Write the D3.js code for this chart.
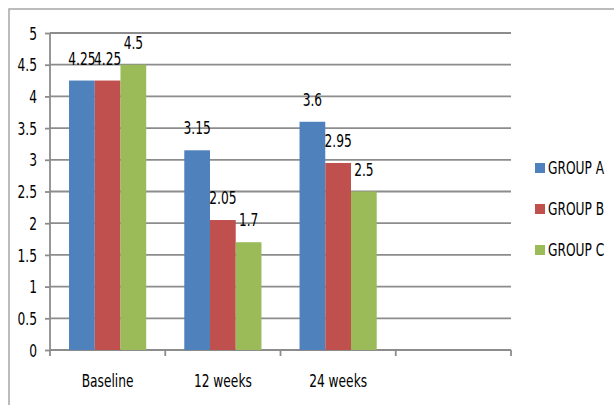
<!DOCTYPE html>
<html>
<head>
<meta charset="utf-8">
<script src="https://cdn.jsdelivr.net/npm/d3@7"></script>
<style>
  body { margin: 0; background: #fff; }
  text { font-family: "DejaVu Sans Condensed", "DejaVu Sans", sans-serif; fill: #000; }
</style>
</head>
<body>
<div id="chart"></div>
<script>
const categories = ["Baseline", "12 weeks", "24 weeks", ""];
const groups = ["GROUP A", "GROUP B", "GROUP C"];
const groupA = [4.25, 3.15, 3.6];
const groupB = [4.25, 2.05, 2.95];
const groupC = [4.5, 1.7, 2.5];
const yTicks = [0, 0.5, 1, 1.5, 2, 2.5, 3, 3.5, 4, 4.5, 5];
const colors = ["#4F81BD", "#C0504D", "#9BBB59"];

const W = 614, H = 405;
const margin = {top: 33, right: 103, bottom: 55, left: 50},
width = W - margin.left - margin.right,
height = H - margin.top - margin.bottom;

// text in the picture is narrow and tall, so squeeze it sideways
function squeeze(sel) {
  sel.each(function() {
    const t = d3.select(this);
    const tx = +t.attr("x") || 0, ty = +t.attr("y") || 0;
    t.attr("x", 0).attr("y", 0)
     .attr("transform", `translate(${tx},${ty}) scale(0.8,1)`);
  });
}

const root = d3.select("#chart")
.append("svg")
.attr("width", W)
.attr("height", H);

// outer chart frame
root.append("rect")
.attr("x", 9).attr("y", 9)
.attr("width", 640).attr("height", 440)
.attr("fill", "none")
.attr("stroke", "#a6a6a6")
.attr("stroke-width", 1.5);

const svg = root.append("g")
.attr("transform", `translate(${margin.left}, ${margin.top})`);

const x = d3.scaleBand()
.domain(categories.map((d, i) => i))
.range([0, width]);

const x1 = d3.scaleBand()
.domain(groups)
.range([0, x.bandwidth()])
.paddingOuter(0.74);

const y = d3.scaleLinear()
.domain([0, 5])
.range([height, 0]);

// grid lines
svg.append("g")
.selectAll("line")
.data(yTicks.filter(d => d > 0))
.join("line")
  .attr("x1", 0).attr("x2", width)
  .attr("y1", d => y(d)).attr("y2", d => y(d))
  .attr("stroke", "#8c8c8c")
  .attr("stroke-width", 1.8);

// Y axis
const yAxis = svg.append("g")
.call(d3.axisLeft(y).tickValues(yTicks).tickSize(5).tickPadding(8).tickFormat(d => d));
yAxis.selectAll("line").attr("stroke", "#8c8c8c").attr("stroke-width", 1.8);
yAxis.select(".domain").attr("stroke", "#8c8c8c").attr("stroke-width", 1.8).attr("d", `M0,0V${height}`);
yAxis.selectAll("text").style("font-size", "17px").attr("dy", "0.36em").call(squeeze);

// X axis
const xAxis = svg.append("g")
.attr("transform", `translate(0, ${height})`)
.call(d3.axisBottom(x).tickSize(0).tickFormat(i => categories[i]).tickPadding(25));
xAxis.select(".domain").attr("stroke", "#8c8c8c").attr("stroke-width", 1.8).attr("d", `M0,0H${width}`);
xAxis.selectAll("text").style("font-size", "17px").call(squeeze);
xAxis.append("g")
.selectAll("line")
.data(d3.range(categories.length + 1))
.join("line")
  .attr("x1", i => i * x.step()).attr("x2", i => i * x.step())
  .attr("y1", 0).attr("y2", 6)
  .attr("stroke", "#8c8c8c")
  .attr("stroke-width", 1.8);

// bars
const series = [groupA, groupB, groupC];
const rows = [];
series.forEach((vals, gi) => vals.forEach((v, ci) => rows.push({g: groups[gi], gi, ci, v})));

svg.append("g")
.selectAll("rect")
.data(rows)
.join("rect")
  .attr("x", d => x(d.ci) + x1(d.g))
  .attr("y", d => y(d.v))
  .attr("width", x1.bandwidth())
  .attr("height", d => height - y(d.v))
  .attr("fill", d => colors[d.gi]);

// value labels
svg.append("g")
.selectAll("text")
.data(rows)
.join("text")
  .attr("x", d => x(d.ci) + x1(d.g) + x1.bandwidth() / 2)
  .attr("y", d => y(d.v) - 16)
  .attr("text-anchor", "middle")
  .style("font-size", "17px")
  .text(d => d.v)
  .call(squeeze);

// legend
const legend = root.append("g")
.attr("transform", "translate(535, 168)");
legend.selectAll("rect")
.data(groups)
.join("rect")
  .attr("x", 0).attr("y", (d, i) => i * 41 - 5)
  .attr("width", 10).attr("height", 10)
  .attr("fill", (d, i) => colors[i]);
legend.selectAll("text")
.data(groups)
.join("text")
  .attr("x", 13).attr("y", (d, i) => i * 41)
  .attr("dy", "0.36em")
  .style("font-size", "17px")
  .text(d => d)
  .call(squeeze);
</script>
</body>
</html>
